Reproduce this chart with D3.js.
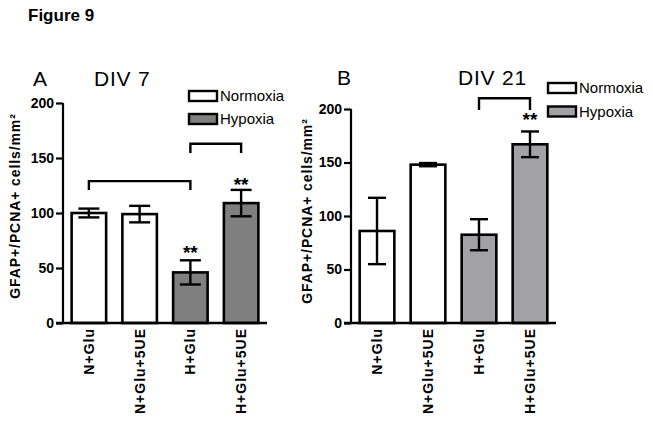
<!DOCTYPE html>
<html><head><meta charset="utf-8">
<script src="https://cdn.jsdelivr.net/npm/d3@7"></script>
<style>
body{margin:0;background:#fff;}
text{font-family:"Liberation Sans",Arial,sans-serif;fill:#000;}
</style></head>
<body><svg id="c" width="653" height="422"></svg>
<script>
// ---- data ----
const categories = ["N+Glu", "N+Glu+5UE", "H+Glu", "H+Glu+5UE"];
const groups = ["Normoxia", "Normoxia", "Hypoxia", "Hypoxia"];
const yTicks = [0, 50, 100, 150, 200];
// Panel A: DIV 7
const valuesA = [100, 99, 46, 109];
const errorsA = [4, 7.5, 11, 12];
const starsA = [null, null, 69, 131];           // y-value of "**"
const bracketsA = [[0, 2, 129, 121], [2, 3, 163, 154.5]]; // from, to, top, foot
// Panel B: DIV 21
const valuesB = [86, 148, 82.5, 167];
const errorsB = [31, 1.5, 14.5, 12];
const starsB = [null, null, null, 195];
const bracketsB = [[2, 3, 210, 199]];

const svg = d3.select("#c");
svg.append("text").attr("x", 28).attr("y", 21).attr("font-size", 17).attr("font-weight", "bold").text("Figure 9");

function panel(o) {
  const g = svg.append("g");
  const x = d3.scaleBand().domain(categories).range([o.x0, o.x1]).paddingInner(0.32).paddingOuter(0.17);
  const y = d3.scaleLinear().domain([0, 200]).range([323, o.yTop]);
  const bw = x.bandwidth();

  // bars
  g.selectAll("rect.bar").data(categories).join("rect")
    .attr("x", d => x(d)).attr("width", bw)
    .attr("y", (d, i) => y(o.values[i])).attr("height", (d, i) => y(0) - y(o.values[i]))
    .attr("fill", (d, i) => groups[i] === "Hypoxia" ? o.hyp : "#fff")
    .attr("stroke", "#000").attr("stroke-width", 2.6);

  // error bars
  categories.forEach((c, i) => {
    const cx = x(c) + bw / 2, v = o.values[i], e = o.errors[i];
    const eg = g.append("g").attr("stroke", "#000").attr("stroke-width", 2.4);
    eg.append("line").attr("x1", cx).attr("x2", cx).attr("y1", y(v + e)).attr("y2", y(v - e));
    [v + e, v - e].forEach(t => eg.append("line").attr("x1", cx - o.cap / 2).attr("x2", cx + o.cap / 2).attr("y1", y(t)).attr("y2", y(t)));
    if (o.stars[i] != null) {
      g.append("text").attr("x", cx).attr("y", y(o.stars[i])).attr("dy", "0.62em")
        .attr("text-anchor", "middle").attr("font-size", 19).attr("font-weight", "bold").text("**");
    }
  });

  // brackets
  o.brackets.forEach(b => {
    const xa = x(categories[b[0]]) + bw / 2, xb = x(categories[b[1]]) + bw / 2;
    g.append("path").attr("fill", "none").attr("stroke", "#000").attr("stroke-width", 2.4)
      .attr("d", `M${xa},${y(b[3])}V${y(b[2])}H${xb}V${y(b[3])}`);
  });

  // y axis
  const ya = g.append("g").attr("transform", `translate(${o.x0},0)`)
    .call(d3.axisLeft(y).tickValues(yTicks).tickSize(7).tickPadding(2).tickFormat(d3.format("d")));
  ya.select(".domain").attr("stroke-width", 2.2).attr("d", `M0,${y(200)}V${y(0)}`);
  ya.selectAll(".tick line").attr("stroke-width", 2.2);
  ya.selectAll("text").attr("font-size", 14).attr("font-weight", "bold").attr("font-family", "Liberation Sans, Arial, sans-serif");

  // x axis
  g.append("line").attr("x1", o.x0 - 7).attr("x2", o.x1).attr("y1", y(0)).attr("y2", y(0)).attr("stroke", "#000").attr("stroke-width", 2.4);
  categories.forEach(c => {
    g.append("text").attr("transform", `translate(${x(c) + bw / 2},${y(0) + 5}) rotate(-90)`)
      .attr("text-anchor", "end").attr("dy", "0.36em").attr("font-size", 14).attr("font-weight", "bold")
      .attr("letter-spacing", "1px").text(c);
  });

  // y label
  g.append("text").attr("transform", `translate(${o.labX},${o.labY}) rotate(-90)`)
    .attr("text-anchor", "middle").attr("dy", "0.36em").attr("font-size", 14).attr("font-weight", "bold")
    .attr("letter-spacing", "0.9px").text("GFAP+/PCNA+ cells/mm²");

  // panel letter & title
  g.append("text").attr("x", o.letX).attr("y", o.titleY).attr("font-size", 21).text(o.letter);
  g.append("text").attr("x", o.titleX).attr("y", o.titleY).attr("font-size", 21).attr("letter-spacing", "0.8px").text(o.title);

  // legend
  ["Normoxia", "Hypoxia"].forEach((n, i) => {
    const ly = o.legY + i * o.legGap;
    g.append("rect").attr("x", o.legX).attr("y", ly).attr("width", 28).attr("height", 10)
      .attr("fill", n === "Hypoxia" ? o.hyp : "#fff").attr("stroke", "#000").attr("stroke-width", 2.4);
    g.append("text").attr("x", o.legX + 31).attr("y", ly + 5).attr("dy", "0.36em").attr("font-size", 15).text(n);
  });
}

panel({x0: 63, x1: 267, yTop: 103, values: valuesA, errors: errorsA, stars: starsA, brackets: bracketsA,
  hyp: "#7f7f7f", cap: 21, labX: 15, labY: 206, letter: "A", letX: 33, title: "DIV 7", titleX: 94, titleY: 86,
  legX: 189, legY: 91, legGap: 23});
panel({x0: 351, x1: 556, yTop: 109, values: valuesB, errors: errorsB, stars: starsB, brackets: bracketsB,
  hyp: "#a2a2a5", cap: 18, labX: 307, labY: 211, letter: "B", letX: 337, title: "DIV 21", titleX: 458, titleY: 85,
  legX: 548, legY: 83, legGap: 23.5});
</script></body></html>
